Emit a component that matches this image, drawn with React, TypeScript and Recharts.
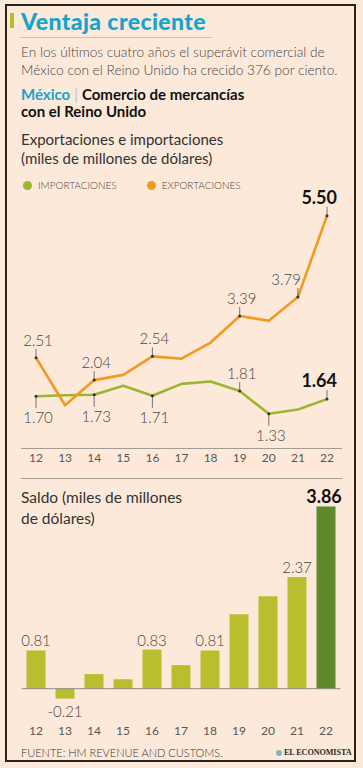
import React from "react";
import {
  LineChart,
  Line,
  BarChart,
  Bar,
  XAxis,
  YAxis,
  ReferenceLine,
  LabelList,
  Cell,
} from "recharts";

// Datos (miles de millones de dólares)
const years = ["12", "13", "14", "15", "16", "17", "18", "19", "20", "21", "22"];
const exportaciones = [2.51, 1.51, 2.04, 2.15, 2.54, 2.49, 2.83, 3.39, 3.29, 3.79, 5.5];
const importaciones = [1.7, 1.72, 1.73, 1.92, 1.71, 1.96, 2.01, 1.81, 1.33, 1.42, 1.64];
const saldo = [0.81, -0.21, 0.31, 0.2, 0.83, 0.5, 0.81, 1.58, 1.96, 2.37, 3.86];

// qué puntos llevan etiqueta
const expLabeled = [0, 2, 4, 7, 9, 10];
const impLabeled = [0, 2, 4, 7, 8, 10];
const impAbove = [7, 10];
const saldoLabeled = [0, 1, 4, 6, 9, 10];

const ORANGE = "#f29a1e";
const GREEN = "#9cb532";
const BAR = "#b8be2e";
const BAR_LAST = "#5e8a2c";
const BG = "#fde9da";
const FONT = "Lato, 'Open Sans', sans-serif";
const TEXT = "#4a4744";

const lineData = years.map((y, i) => ({
  year: y,
  exp: exportaciones[i],
  imp: importaciones[i],
}));
const barData = years.map((y, i) => ({ year: y, saldo: saldo[i] }));

const last = years.length - 1;

function PointLabel(props: any, labeled: number[], above: (i: number) => boolean) {
  const { x, y, value, index } = props;
  if (!labeled.includes(index)) return null;
  const up = above(index);
  const bold = index === last;
  let anchor: "middle" | "end" = "middle";
  let tx = x + 2;
  if (bold) {
    anchor = "end";
    tx = x + 10;
  } else if (index === 9) {
    anchor = "end";
    tx = x + 3;
  }
  const ty = up ? y - 12 : y + 27;
  return (
    <g>
      <line x1={x} y1={y} x2={x} y2={up ? y - 9 : y + 12} stroke="#555" strokeWidth={0.8} />
      <circle cx={x} cy={y} r={1.5} fill="#333" />
      <text
        x={tx}
        y={ty}
        textAnchor={anchor}
        fontFamily={FONT}
        fontSize={bold ? 18 : 15}
        fontWeight={bold ? 700 : 300}
        fill={bold ? "#111" : TEXT}
      >
        {Number(value).toFixed(2)}
      </text>
    </g>
  );
}

function BarLabel(props: any) {
  const { x, y, width, height, value, index } = props;
  if (!saldoLabeled.includes(index)) return null;
  const bold = index === last;
  const neg = value < 0;
  const cx = x + width / 2;
  const top = Math.min(y, y + height);
  const bottom = Math.max(y, y + height);
  const ty = neg ? bottom + 18 : top - 4;
  return (
    <text
      x={bold ? cx - 2 : cx}
      y={ty}
      textAnchor="middle"
      fontFamily={FONT}
      fontSize={bold ? 18 : 15}
      fontWeight={bold ? 700 : 300}
      fill={bold ? "#111" : TEXT}
    >
      {Number(value).toFixed(2)}
    </text>
  );
}

const abs = (top: number, left: number, extra: React.CSSProperties = {}): React.CSSProperties => ({
  position: "absolute",
  top,
  left,
  margin: 0,
  whiteSpace: "nowrap",
  ...extra,
});

export default function App() {
  return (
    <div
      style={{
        position: "absolute",
        left: 0,
        top: 0,
        width: 363,
        height: 768,
        background: BG,
        fontFamily: FONT,
        overflow: "hidden",
      }}
    >
      <div
        style={abs(4, 5, {
          width: 351,
          height: 758,
          border: "2px solid #2b221d",
          boxSizing: "border-box",
        })}
      />
      <div style={abs(13, 10, { width: 4, height: 15, background: "#b3be2c" })} />
      <div
        style={abs(6, 21, {
          fontSize: 23,
          fontWeight: 900,
          color: "#17a4cb",
          lineHeight: "30px",
          letterSpacing: 0.4,
        })}
      >
        Ventaja creciente
      </div>
      <div style={abs(37, 20, { width: 192, height: 1, background: "#b9c6cc" })} />
      <div style={abs(43, 21, { fontSize: 13.7, lineHeight: "18px", color: TEXT, fontWeight: 300 })}>
        En los últimos cuatro años el superávit comercial de
        <br />
        México con el Reino Unido ha crecido 376 por ciento.
      </div>
      <div style={abs(86, 21, { fontSize: 15, lineHeight: "17px", color: "#111", fontWeight: 700 })}>
        <span style={{ color: "#17a4cb" }}>México</span>
        <span style={{ color: "#999", fontWeight: 300 }}> | </span>
        Comercio de mercancías
        <br />
        con el Reino Unido
      </div>
      <div style={abs(130, 21, { fontSize: 15, lineHeight: "19px", color: "#333" })}>
        Exportaciones e importaciones
        <br />
        (miles de millones de dólares)
      </div>

      {/* leyenda */}
      <div style={abs(179, 21, { display: "flex", alignItems: "center", fontSize: 10, color: TEXT, fontWeight: 300 })}>
        <span style={{ width: 9, height: 9, borderRadius: 5, background: GREEN, marginRight: 6, marginLeft: 2 }} />
        IMPORTACIONES
        <span style={{ width: 9, height: 9, borderRadius: 5, background: ORANGE, marginRight: 6, marginLeft: 30 }} />
        EXPORTACIONES
      </div>

      <div style={abs(170, 0)}>
        <LineChart width={363} height={300} data={lineData} margin={{ top: 22, right: 21, bottom: 0, left: 21 }}>
          <YAxis hide domain={[0.6, 6.0]} />
          <XAxis
            dataKey="year"
            height={21.5}
            padding={{ left: 15, right: 15 }}
            tickLine={false}
            tickSize={0}
            tickMargin={5}
            axisLine={{ stroke: "#a39c94", strokeWidth: 1 }}
            tick={{ fill: "#5a5652", fontSize: 12, fontFamily: FONT }}
            interval={0}
          />
          <Line
            dataKey="imp"
            stroke={GREEN}
            strokeWidth={2.6}
            dot={false}
            isAnimationActive={false}
            strokeLinejoin="round"
          >
            <LabelList
              dataKey="imp"
              content={(p: any) => PointLabel(p, impLabeled, (i) => impAbove.includes(i))}
            />
          </Line>
          <Line
            dataKey="exp"
            stroke={ORANGE}
            strokeWidth={2.6}
            dot={false}
            isAnimationActive={false}
            strokeLinejoin="round"
          >
            <LabelList dataKey="exp" content={(p: any) => PointLabel(p, expLabeled, () => true)} />
          </Line>
        </LineChart>
      </div>

      <div style={abs(478, 21, { width: 321, height: 1, background: "#a39c94" })} />

      <div style={abs(487, 21, { fontSize: 15.5, lineHeight: "21px", color: "#333" })}>
        Saldo (miles de millones
        <br />
        de dólares)
      </div>

      <div style={abs(480, 0)}>
        <BarChart width={363} height={265} data={barData} margin={{ top: 20, right: 22.5, bottom: 0, left: 21.5 }}>
          <YAxis hide domain={[-0.6, 4.0]} />
          <XAxis
            dataKey="year"
            height={28}
            tickLine={false}
            axisLine={false}
            tickSize={0}
            tickMargin={9}
            tick={{ fill: "#5a5652", fontSize: 12, fontFamily: FONT }}
            interval={0}
          />
          <ReferenceLine y={0} stroke="#8f8a84" strokeWidth={1} />
          <Bar dataKey="saldo" barSize={19} isAnimationActive={false}>
            {barData.map((d, i) => (
              <Cell key={d.year} fill={i === last ? BAR_LAST : BAR} />
            ))}
            <LabelList dataKey="saldo" content={BarLabel} />
          </Bar>
        </BarChart>
      </div>

      <div style={abs(746, 21, { fontSize: 11, lineHeight: "14px", color: "#333", fontWeight: 300 })}>
        FUENTE: HM REVENUE AND CUSTOMS.
      </div>
      <div
        style={abs(746, 276, {
          fontSize: 8.2,
          lineHeight: "14px",
          color: "#2a2a2a",
          fontWeight: 700,
          fontFamily: "'Liberation Serif', serif",
          letterSpacing: -0.1,
          display: "flex",
          alignItems: "center",
        })}
      >
        <span style={{ width: 6, height: 6, borderRadius: 3, background: "#7fb3d3", marginRight: 2 }} />
        EL ECONOMISTA
      </div>
    </div>
  );
}
